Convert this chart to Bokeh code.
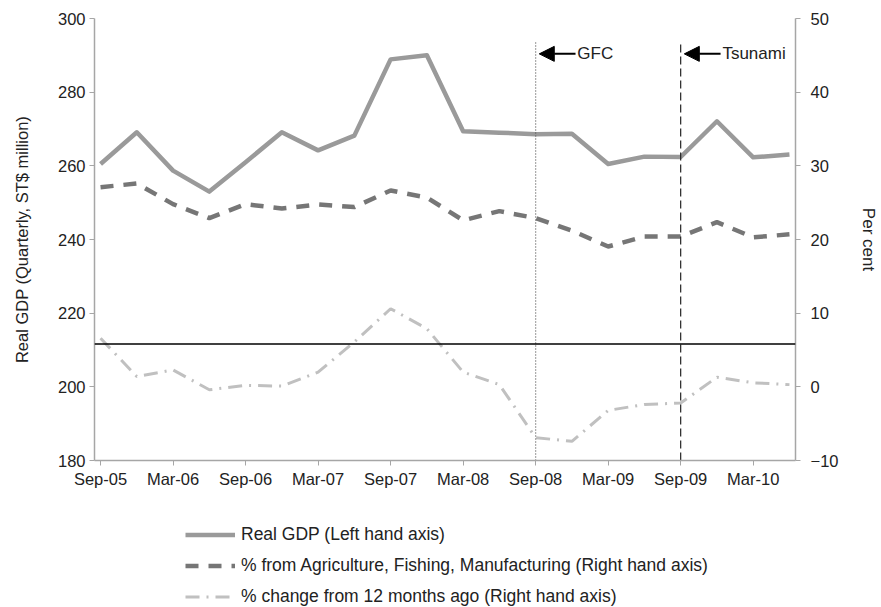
from bokeh.plotting import figure
from bokeh.layouts import column
from bokeh.models import (Range1d, LinearAxis, FixedTicker, Span, Arrow, NormalHead,
                          Label, Legend, LegendItem)
from bokeh.embed import file_html
from bokeh.resources import INLINE

# ---------------- data ----------------
quarters = ["Sep-05", "Dec-05", "Mar-06", "Jun-06", "Sep-06", "Dec-06", "Mar-07", "Jun-07",
            "Sep-07", "Dec-07", "Mar-08", "Jun-08", "Sep-08", "Dec-08", "Mar-09", "Jun-09",
            "Sep-09", "Dec-09", "Mar-10", "Jun-10"]
real_gdp = [260.5, 269.1, 258.7, 253.0, 261.0, 269.1, 264.2, 268.2, 288.9, 290.0,
            269.4, 269.0, 268.6, 268.7, 260.5, 262.5, 262.4, 272.1, 262.3, 263.1]
agri_share = [27.1, 27.6, 24.8, 22.9, 24.8, 24.2, 24.75, 24.4, 26.65, 25.7,
              22.6, 23.85, 22.9, 21.2, 19.05, 20.4, 20.4, 22.35, 20.3, 20.7]
yoy_change = [6.6, 1.4, 2.3, -0.4, 0.2, 0.1, 2.0, 6.1, 10.6, 7.9,
              2.0, 0.3, -6.9, -7.4, -3.2, -2.4, -2.2, 1.3, 0.55, 0.3]
reference_level = 5.8
event_names = ["GFC", "Tsunami"]
event_quarters = ["Sep-08", "Sep-09"]
left_ticks = [180, 200, 220, 240, 260, 280, 300]
right_ticks = [-10, 0, 10, 20, 30, 40, 50]
legend_labels = ["Real GDP (Left hand axis)",
                 "% from Agriculture, Fishing, Manufacturing (Right hand axis)",
                 "% change from 12 months ago (Right hand axis)"]

# ---------------- style ----------------
FONT = "Liberation Sans"
TXT = "#222222"
AXIS = "#a6a6a6"
series_styles = [dict(line_color="#9a9a9a", line_width=4.5, line_join="round"),
                 dict(line_color="#767676", line_width=4.5, line_dash="13 10"),
                 dict(line_color="#c0c0c0", line_width=3, line_dash="14 7 2 7")]

# months since Sep-05; each quarter's value sits mid-month
x = [3 * i + 0.5 for i in range(len(quarters))]

p = figure(width=881, height=492, output_backend="svg", toolbar_location=None,
           x_range=Range1d(0, 58), y_range=Range1d(180, 300),
           min_border_left=94, min_border_right=82, min_border_top=18, min_border_bottom=32)
p.extra_y_ranges = {"right": Range1d(-10, 50)}
p.grid.visible = False
p.outline_line_color = None
p.background_fill_color = "white"
p.border_fill_color = "white"

lab_idx = list(range(0, len(quarters), 2))
xa = p.xaxis[0]
xa.ticker = FixedTicker(ticks=[x[i] for i in lab_idx])
xa.major_label_overrides = {x[i]: quarters[i] for i in lab_idx}
xa.major_tick_out = 5
xa.major_tick_in = 0
xa.minor_tick_out = 0
xa.minor_tick_in = 0
xa.major_label_standoff = 4
xa.major_label_text_font = FONT
xa.major_label_text_font_size = "16.5px"
xa.major_label_text_color = TXT
xa.axis_line_color = AXIS
xa.axis_line_width = 1.5
xa.major_tick_line_color = AXIS

yl = p.yaxis[0]
yl.ticker = FixedTicker(ticks=left_ticks)
yl.axis_label = "Real GDP (Quarterly, ST$ million)"
yl.axis_label_text_font = FONT
yl.axis_label_text_font_size = "16.5px"
yl.axis_label_text_font_style = "normal"
yl.axis_label_text_color = TXT
yl.axis_label_standoff = 24
yl.major_label_text_font = FONT
yl.major_label_text_font_size = "16.5px"
yl.major_label_text_color = TXT
yl.major_label_standoff = 4
yl.major_tick_out = 5
yl.major_tick_in = 0
yl.minor_tick_out = 0
yl.minor_tick_in = 0
yl.axis_line_color = AXIS
yl.axis_line_width = 1.5
yl.major_tick_line_color = AXIS

yr = LinearAxis(y_range_name="right", ticker=FixedTicker(ticks=right_ticks),
                axis_label="Per cent", axis_label_text_font=FONT,
                axis_label_text_font_size="17px", axis_label_text_font_style="normal",
                axis_label_text_color=TXT, axis_label_standoff=18,
                major_label_text_font=FONT, major_label_text_font_size="16.5px",
                major_label_text_color=TXT, major_label_standoff=10,
                major_tick_out=5, major_tick_in=0, minor_tick_out=0, minor_tick_in=0,
                axis_line_color=AXIS, axis_line_width=1.5, major_tick_line_color=AXIS)
p.add_layout(yr, "right")

# reference level line
p.add_layout(Span(location=reference_level, dimension="width", y_range_name="right",
                  line_color="black", line_width=1.5))

# series
p.line(x, yoy_change, y_range_name="right", **series_styles[2])
p.line(x, agri_share, y_range_name="right", **series_styles[1])
p.line(x, real_gdp, **series_styles[0])

# events
styles = {"GFC": dict(line_dash="1 2", line_color="#555555", line_width=1.2),
          "Tsunami": dict(line_dash="8 4", line_color="#222222", line_width=1.2)}
for name, q in zip(event_names, event_quarters):
    xe = x[quarters.index(q)]
    p.segment(x0=[xe], y0=[-10], x1=[xe], y1=[46.8], y_range_name="right", **styles[name])
    p.add_layout(Arrow(end=NormalHead(size=15, fill_color="black", line_color="black"),
                       x_start=xe + 3.3, x_end=xe + 0.3, y_start=45.2, y_end=45.2,
                       y_range_name="right", line_color="black", line_width=2))
    p.add_layout(Label(x=xe + 3.45, y=45.2, y_range_name="right", text=name,
                       text_baseline="middle", text_font=FONT, text_font_size="17px",
                       text_color=TXT))

# legend panel below the chart (its frame is aligned with the chart's frame)
lp = figure(width=881, height=115, output_backend="svg", toolbar_location=None,
            x_range=Range1d(0, 1), y_range=Range1d(0, 1), x_axis_type=None, y_axis_type=None,
            min_border=0, min_border_left=0, min_border_right=0, min_border_top=0,
            min_border_bottom=0)
lp.grid.visible = False
lp.outline_line_color = None
# legend keys: renderers kept outside the visible range, only their keys are shown
keys = [lp.line([5, 6], [5, 5], **st) for st in series_styles]
legend = Legend(items=[LegendItem(label=lab, renderers=[r]) for lab, r in zip(legend_labels, keys)],
                location=(91, 0), orientation="vertical", glyph_width=50, glyph_height=19,
                label_height=19, spacing=10, padding=0, margin=0, border_line_color=None,
                background_fill_alpha=0, label_standoff=6, label_text_font=FONT,
                label_text_font_size="17.5px", label_text_color=TXT)
lp.add_layout(legend, "center")

open("out.html", "w").write(file_html(column(p, lp), INLINE))
